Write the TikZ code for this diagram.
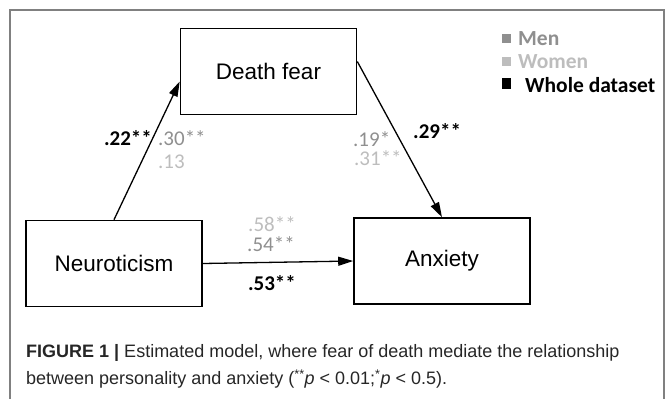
\documentclass[tikz,border=0pt]{standalone}
\usepackage{fontspec}
\setmainfont{Liberation Sans}
\newfontfamily\calibri{Carlito}
\usetikzlibrary{arrows.meta}
\definecolor{mengray}{HTML}{8F8F8F}
\definecolor{womengray}{HTML}{BDBDBD}
\definecolor{framegray}{HTML}{808080}
\tikzset{
  var/.style={draw, line width=1.6pt, minimum width=176pt, minimum height=86pt,
    inner sep=0pt, font=\fontsize{22.5}{27}\selectfont},
  link/.style={line width=1.3pt, -{Triangle[length=15pt,width=9pt]}},
  coef/.style={inner sep=0pt, text height=13pt, text depth=0pt,
    font=\calibri\fontsize{21}{24}\selectfont},
  whole/.style={coef, font=\calibri\bfseries\fontsize{21}{24}\selectfont},
  legtext/.style={inner sep=0pt, anchor=west, font=\calibri\bfseries\fontsize{21.5}{25}\selectfont},
  capline/.style={inner sep=0pt, anchor=west, text=black!85, font=\fontsize{18}{21}\selectfont}
}
\begin{document}
\begin{tikzpicture}[x=1pt, y=-1pt]
    \useasboundingbox (0,0) rectangle (667,399);
    \draw[framegray, line width=1.2pt] (10,399) -- (10,10) -- (664,10) -- (664,399);
    % the three variables
    \node[var] (DF) at (268.5,71.5) {Death fear};
    \node[var] (NE) at (114,263.5) {Neuroticism};
    \node[var] (AX) at (442,261) {Anxiety};
    \draw[link] (NE.north) -- ([yshift=-10pt]DF.west);
    \draw[link] ([yshift=10pt]DF.east) -- (AX.north);
    \draw[link] (NE.east) -- (AX.west);
    % path coefficients
    \node[whole] (a) at (128,139) {.22**};
    \node[coef, text=mengray, anchor=west] (am) at (158,139) {.30**};
    \node[coef, text=womengray, anchor=west] (aw) at (158,162) {.13};
    \node[whole, anchor=west] (b) at (413,132) {.29**};
    \node[coef, text=mengray, anchor=west] (bm) at (353,140) {.19*};
    \node[coef, text=womengray, anchor=west] (bw) at (354,159) {.31**};
    \node[coef, text=womengray] (cw) at (272,225) {.58**};
    \node[coef, text=mengray] (cm) at (271,245) {.54**};
    \node[whole] (c) at (272,284) {.53**};
    % legend
    \node[fill=mengray, minimum size=9pt, inner sep=0pt] (sqM) at (506.5,38.5) {};
    \node[fill=womengray, minimum size=9pt, inner sep=0pt] (sqW) at (506.5,61.5) {};
    \node[fill=black, minimum width=9pt, minimum height=11pt, inner sep=0pt] (sqA) at (506.5,83.5) {};
    \node[legtext, text=mengray] (lM) at (518,39) {Men};
    \node[legtext, text=womengray] (lW) at (518,62) {Women};
    \node[legtext] (lA) at (525,85) {Whole dataset};
    % caption
    \node[capline] (cap1) at (26,353) {\textbf{FIGURE 1 |} Estimated model, where fear of death mediate the relationship};
    \node[capline] (cap2) at (26,379) {between personality and anxiety (\textsuperscript{**}\textit{p} < 0.01;\textsuperscript{*}\textit{p} < 0.5).};
\end{tikzpicture}
\end{document}
